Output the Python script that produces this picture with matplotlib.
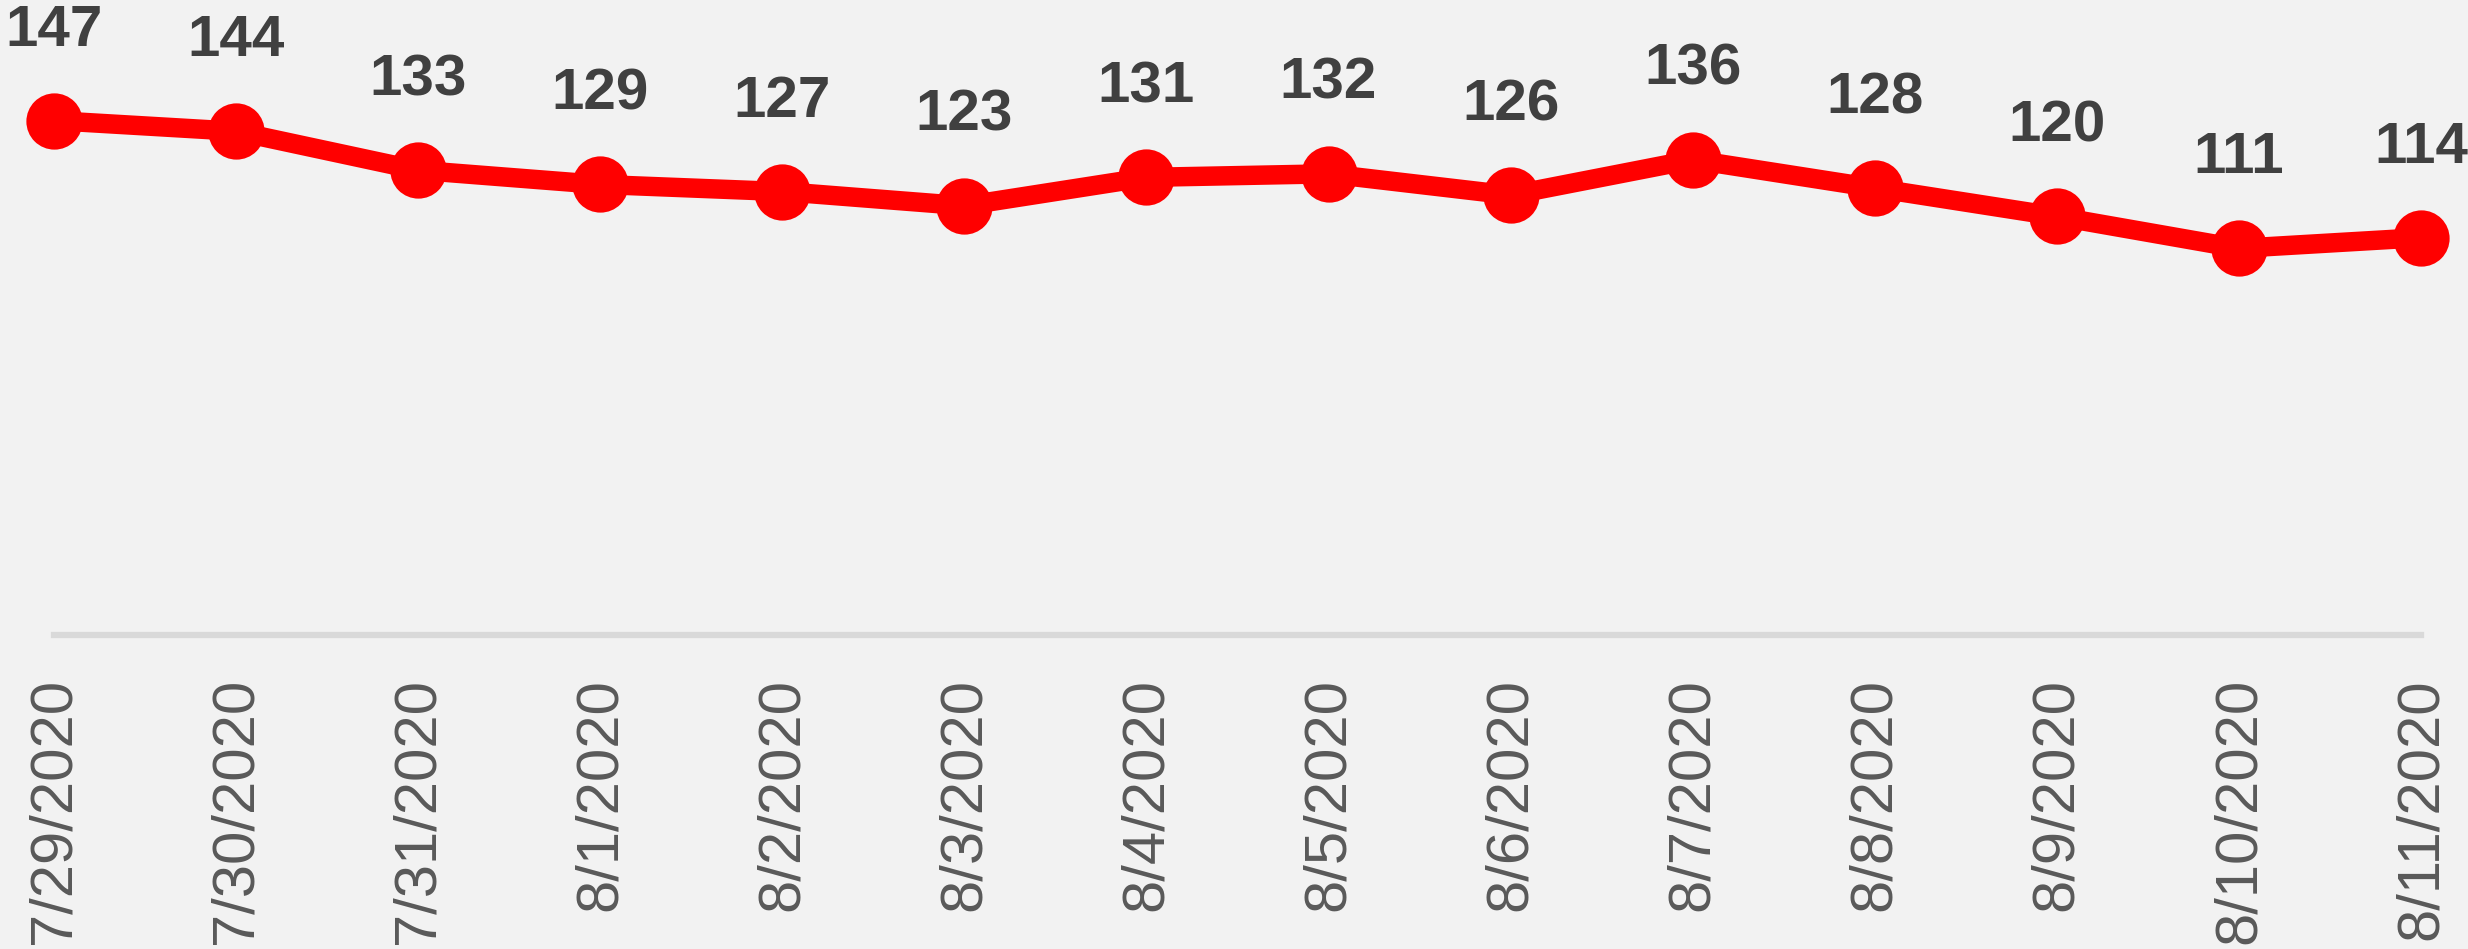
import matplotlib
matplotlib.use("Agg")
import matplotlib.pyplot as plt

dates = ["7/29/2020", "7/30/2020", "7/31/2020", "8/1/2020", "8/2/2020", "8/3/2020",
         "8/4/2020", "8/5/2020", "8/6/2020", "8/7/2020", "8/8/2020", "8/9/2020",
         "8/10/2020", "8/11/2020"]
values = [147, 144, 133, 129, 127, 123, 131, 132, 126, 136, 128, 120, 111, 114]

W, H, DPI = 2468, 949, 100
bg = "#F2F2F2"
fig = plt.figure(figsize=(W / DPI, H / DPI), dpi=DPI, facecolor=bg)
ax_left, ax_right, ax_bottom_px = 54, 2421, 635
ax = fig.add_axes([ax_left / W, (H - ax_bottom_px) / H, (ax_right - ax_left) / W, ax_bottom_px / H])
ax.set_facecolor(bg)

x = list(range(len(values)))
ax.plot(x, values, color="#FF0000", linewidth=14, marker="o", markersize=39,
        markerfacecolor="#FF0000", markeredgecolor="#FF0000", markeredgewidth=1.5,
        clip_on=False, solid_joinstyle="round", zorder=3)

for xi, v in zip(x, values):
    ax.annotate(str(v), xy=(xi, v), xytext=(0, 54), textcoords="offset points",
                ha="center", va="baseline", fontsize=42, fontweight="bold",
                family="Liberation Sans", color="#404040", annotation_clip=False)

ax.set_xlim(0, len(values) - 1)
ax.set_ylim(2, 181)
ax.set_xticks(x)
ax.set_xticklabels(dates, rotation=90, fontsize=43, family="Liberation Sans",
                   color="#595959", va="top", ha="center")
ax.tick_params(axis="x", length=0, pad=31)
ax.set_yticks([])
for s in ["top", "left", "right"]:
    ax.spines[s].set_visible(False)
ax.spines["bottom"].set_color("#D9D9D9")
ax.spines["bottom"].set_linewidth(4.5)

fig.savefig("out.png", dpi=DPI, facecolor=bg)
